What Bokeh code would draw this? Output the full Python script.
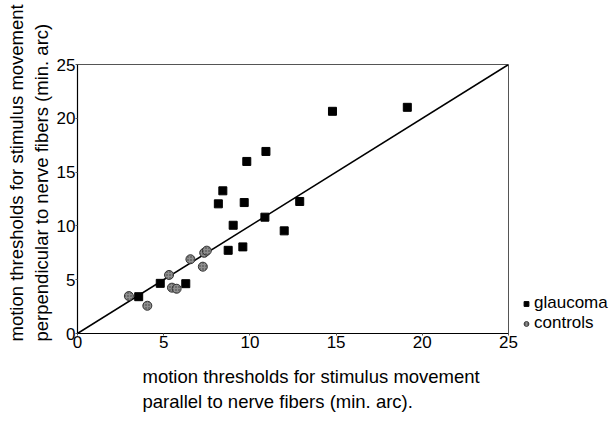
from bokeh.plotting import figure
from bokeh.layouts import row
from bokeh.models import Legend, LegendItem, FixedTicker, Title
from bokeh.embed import file_html
from bokeh.resources import INLINE

# data (min. arc)
glaucoma_parallel = [3.55, 4.80, 6.28, 8.17, 8.43, 8.74, 9.03, 9.59, 9.67, 9.82,
                     10.87, 10.93, 11.99, 12.89, 14.79, 19.13]
glaucoma_perpendicular = [3.42, 4.66, 4.63, 12.05, 13.26, 7.73, 10.06, 8.05, 12.17, 15.99,
                          10.81, 16.92, 9.54, 12.27, 20.65, 21.02]
controls_parallel = [2.98, 4.05, 5.31, 5.48, 5.75, 6.55, 7.27, 7.35, 7.50]
controls_perpendicular = [3.48, 2.58, 5.44, 4.26, 4.16, 6.90, 6.21, 7.50, 7.70]
identity_line = [0, 25]
ticks = [0, 5, 10, 15, 20, 25]
series_names = ["glaucoma", "controls"]

FONT = "Liberation Sans"

SQ_STYLE = dict(marker="square", size=8, fill_color="black", line_color="black")
CI_STYLE = dict(marker="circle", size=9, fill_color="#8e8e8e", line_color="#333333",
                line_width=1, hatch_pattern="dot", hatch_color="#3a3a3a",
                hatch_scale=3, hatch_weight=1)

p = figure(width=520, height=428, output_backend="svg", toolbar_location=None,
           x_range=(0, 25), y_range=(0, 25),
           min_border_left=77, min_border_right=12, min_border_top=64, min_border_bottom=95)
p.background_fill_color = "white"
p.border_fill_color = "white"
p.grid.visible = False
p.outline_line_color = "#555555"
p.outline_line_width = 1

for ax in (p.xaxis[0], p.yaxis[0]):
    ax.ticker = FixedTicker(ticks=ticks)
    ax.axis_line_color = "black"
    ax.axis_line_width = 1.2
    ax.major_tick_in = 0
    ax.major_tick_out = 2
    ax.major_tick_line_color = "#555555"
    ax.minor_tick_line_color = None
    ax.major_label_text_font = FONT
    ax.major_label_text_font_size = "17px"
    ax.major_label_text_color = "black"
    ax.major_label_standoff = 0

p.line(identity_line, identity_line, line_color="black", line_width=1.6)
p.scatter(glaucoma_parallel, glaucoma_perpendicular, **SQ_STYLE)
p.scatter(controls_parallel, controls_perpendicular, **CI_STYLE)

xtitle = Title(text="motion thresholds for stimulus movement\nparallel to nerve fibers (min. arc).",
               align="left", offset=65, standoff=28,
               text_font=FONT, text_font_size="18.5px", text_font_style="normal",
               text_color="black", text_line_height=1.2)
p.add_layout(xtitle, "below")

ytitle = Title(text="motion thresholds for stimulus movement\nperpendicular to nerve fibers (min. arc)",
               align="left", offset=-8, standoff=2,
               text_font=FONT, text_font_size="18.5px", text_font_style="normal",
               text_color="black", text_line_height=1.2)
p.add_layout(ytitle, "left")

# legend panel: the same series, drawn on ranges where they fall outside the view
q = figure(width=93, height=428, output_backend="svg", toolbar_location=None,
           x_range=(100, 101), y_range=(100, 101), x_axis_location=None, y_axis_location=None,
           min_border_left=0, min_border_right=0, min_border_top=0, min_border_bottom=0)
q.grid.visible = False
q.outline_line_color = None
q.background_fill_color = "white"
q.border_fill_color = "white"
r_sq = q.scatter(glaucoma_parallel, glaucoma_perpendicular, **SQ_STYLE)
r_ci = q.scatter(controls_parallel, controls_perpendicular, **CI_STYLE)

legend = Legend(items=[LegendItem(label=series_names[0], renderers=[r_sq]),
                       LegendItem(label=series_names[1], renderers=[r_ci])],
                location=(0, 0), orientation="vertical",
                border_line_color=None, background_fill_alpha=0,
                label_text_font=FONT, label_text_font_size="17px", label_text_color="black",
                label_height=15, glyph_height=15, glyph_width=12,
                label_standoff=2, spacing=0, padding=0, margin=0)
q.add_layout(legend)

layout = row(p, q, spacing=0)
open("out.html", "w").write(file_html(layout, INLINE))
